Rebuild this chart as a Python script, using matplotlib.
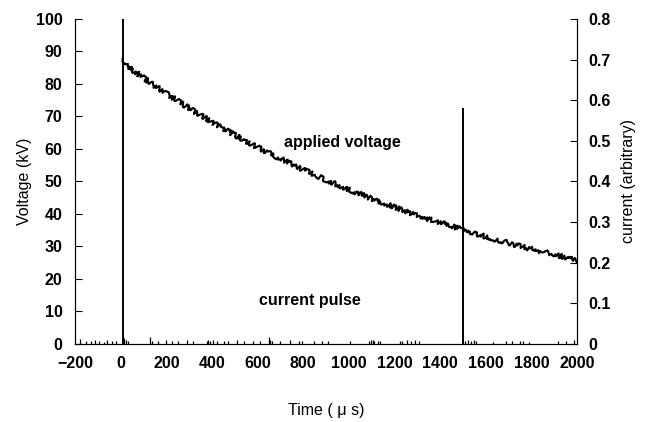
import matplotlib

matplotlib.use("Agg")
import matplotlib.pyplot as plt
import numpy as np

plt.rcParams["font.family"] = ["Liberation Sans", "DejaVu Sans"]

# applied voltage (kV) every 50 us
t_volt = [8] + list(range(50, 2001, 50))
volt = [87.6, 84.4, 81.9, 79.4, 77.1, 74.8, 72.5, 70.4, 68.3, 66.2, 64.3, 62.4, 60.5, 58.7, 57.0,
        55.3, 53.6, 52.0, 50.5, 49.0, 47.5, 46.1, 44.7, 43.4, 42.1, 40.8, 39.6, 38.4, 37.3, 36.2,
        35.1, 34.0, 33.0, 32.0, 31.1, 30.1, 29.2, 28.4, 27.5, 26.7, 25.9]

# current pulses (arbitrary units, right axis)
pulse_t = [8, 1500]
pulse_i = [0.85, 0.582]

# small baseline spikes in the current record
spike_t = [-180, -150, -128, -112, -95, -72, -58, -40, -22, 16, 24, 34, 128, 136, 162, 198, 226,
           252, 290, 318, 376, 384, 392, 404, 420, 452, 472, 508, 540, 578, 612, 650, 656, 664,
           700, 742, 780, 796, 846, 882, 910, 1006, 1090, 1096, 1104, 1112, 1126, 1136, 1226,
           1232, 1256, 1272, 1290, 1306, 1510, 1522, 1534, 1548, 1556, 1632, 1690, 1714, 1748,
           1762, 1788, 1916, 1950, 1986]
spike_i = [0.012, 0.008, 0.006, 0.010, 0.007, 0.005, 0.009, 0.006, 0.007, 0.015, 0.010, 0.008,
           0.016, 0.008, 0.007, 0.010, 0.006, 0.008, 0.009, 0.006, 0.008, 0.010, 0.007, 0.009,
           0.006, 0.007, 0.008, 0.009, 0.006, 0.008, 0.007, 0.018, 0.010, 0.008, 0.007, 0.009,
           0.008, 0.006, 0.007, 0.008, 0.006, 0.007, 0.006, 0.009, 0.010, 0.008, 0.006, 0.007,
           0.008, 0.006, 0.010, 0.007, 0.009, 0.008, 0.008, 0.010, 0.007, 0.009, 0.006, 0.005,
           0.007, 0.006, 0.008, 0.006, 0.005, 0.006, 0.007, 0.009]

fig = plt.figure(figsize=(6.47, 4.22), dpi=100)
ax = fig.add_axes([0.116, 0.185, 0.776, 0.77])
ax2 = ax.twinx()

ln, = ax.plot(t_volt, volt, color="black", lw=1.5)
ln.set_sketch_params(scale=2.4, length=2.0, randomness=10)  # noisy scope trace look
ax2.vlines(pulse_t, 0, pulse_i, color="black", lw=1.4)
ax2.vlines(spike_t, 0, spike_i, color="black", lw=0.9)

ax.set_xlim(-200, 2000)
ax.set_ylim(0, 100)
ax2.set_ylim(0, 0.8)
ax.set_xticks(range(-200, 2001, 200))
ax.set_yticks(range(0, 101, 10))
ax2.set_yticks(np.arange(0, 0.81, 0.1))
ax2.set_yticklabels(["0", "0.1", "0.2", "0.3", "0.4", "0.5", "0.6", "0.7", "0.8"])

for a in (ax, ax2):
    a.spines["top"].set_visible(False)
    a.tick_params(direction="in", length=5, width=0.8, labelsize=11.5)
    for lb in a.get_xticklabels() + a.get_yticklabels():
        lb.set_fontweight("bold")
ax.tick_params(axis="x", length=0, pad=9)
ax.tick_params(axis="y", pad=9)
ax2.tick_params(axis="y", pad=8)

ax.set_xlabel("Time ( μ s)", fontsize=11.5, labelpad=23)
ax.set_ylabel("Voltage (kV)", fontsize=11.5, labelpad=3)
ax2.set_ylabel("current (arbitrary)", fontsize=11.5)
ax2.yaxis.set_label_coords(1.087, 0.5)

ax.text(970, 62, "applied voltage", fontsize=11.5, fontweight="bold", ha="center", va="center")
ax.text(830, 13.5, "current pulse", fontsize=11.5, fontweight="bold", ha="center", va="center")

fig.savefig("out.png", dpi=100)
